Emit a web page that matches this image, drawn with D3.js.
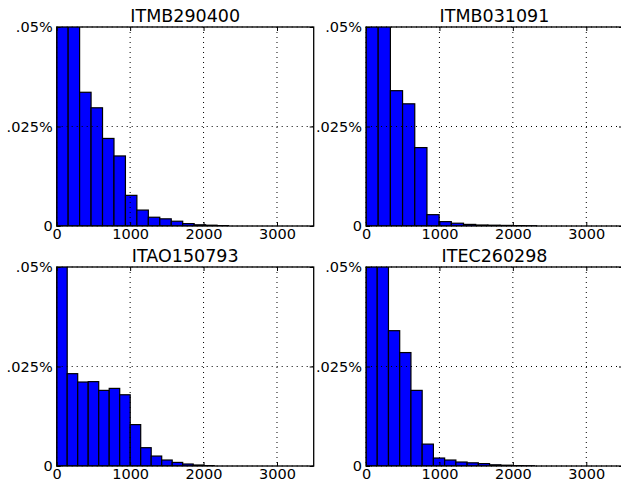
<!DOCTYPE html>
<html><head><meta charset="utf-8">
<script src="https://cdn.jsdelivr.net/npm/d3@7"></script>
<style>body{margin:0;background:#fff}svg{display:block}text{font-family:"DejaVu Sans",sans-serif;fill:#000}</style>
</head><body><svg id="c" width="621" height="485"></svg>
<script>
// Data
const titles = ["ITMB290400", "ITMB031091", "ITAO150793", "ITEC260298"];
const binWidths = [156, 166, 143, 153];
const valsITMB290400 = [0.32, 0.20, 0.0336, 0.0297, 0.0220, 0.0176, 0.0077, 0.0040, 0.0022, 0.0018, 0.0012, 0.0006, 0.0003, 0.0002, 0.0001];
const valsITMB031091 = [0.33, 0.18, 0.0340, 0.0307, 0.0197, 0.00285, 0.0011, 0.0007, 0.0004, 0.00025, 0.0002, 0.00015, 0.0001, 0.00005];
const valsITAO150793 = [0.557, 0.0232, 0.0211, 0.0212, 0.0190, 0.0195, 0.0179, 0.0104, 0.0046, 0.0025, 0.0015, 0.0009, 0.0005, 0.00025, 0.0001];
const valsITEC260298 = [0.36, 0.20, 0.0340, 0.0285, 0.0190, 0.0055, 0.0020, 0.0015, 0.0010, 0.0008, 0.0006, 0.0003, 0.0002, 0.0001, 0.00005];
const xTicks = [0, 1000, 2000, 3000];
const yTicks = [0, 0.025, 0.05];
const yTickLabels = ["0", ".025%", ".05%"];

const series = [valsITMB290400, valsITMB031091, valsITAO150793, valsITEC260298];
const svg = d3.select("#c");
const W = 257, H = 199;
const pos = [[56.7, 27], [366, 27], [56.7, 267], [366, 267]];

series.forEach((vals, k) => {
  const [x0, y0] = pos[k];
  const bw = binWidths[k];
  const x = d3.scaleLinear().domain([0, 3500]).range([x0, x0 + W]);
  const y = d3.scaleLinear().domain([0, 0.05]).range([y0 + H, y0]);
  const g = svg.append("g");
  const cid = "clip" + k;
  svg.append("clipPath").attr("id", cid).append("rect")
    .attr("x", x0).attr("y", y0).attr("width", W).attr("height", H);

  g.append("g").attr("clip-path", `url(#${cid})`)
    .selectAll("rect").data(vals).join("rect")
    .attr("x", (d, i) => x(i * bw))
    .attr("width", (d, i) => x((i + 1) * bw) - x(i * bw))
    .attr("y", d => y(d))
    .attr("height", d => y(0) - y(d))
    .attr("fill", "#0000ff").attr("stroke", "#000").attr("stroke-width", 1.2);

  // grid
  const grid = g.append("g").attr("stroke", "#000").attr("stroke-width", 1).attr("stroke-dasharray", "1,4");
  grid.selectAll("line.gx").data(xTicks).join("line").attr("class", "gx")
    .attr("x1", d => x(d)).attr("x2", d => x(d)).attr("y1", y0).attr("y2", y0 + H);
  grid.selectAll("line.gy").data(yTicks).join("line").attr("class", "gy")
    .attr("x1", x0).attr("x2", x0 + W).attr("y1", d => y(d)).attr("y2", d => y(d));

  // frame
  g.append("rect").attr("x", x0).attr("y", y0).attr("width", W).attr("height", H)
    .attr("fill", "none").attr("stroke", "#000").attr("stroke-width", 1.3);

  // axes
  g.append("g").attr("transform", `translate(0,${y0 + H})`)
    .call(d3.axisBottom(x).tickValues(xTicks).tickFormat(d3.format("d")).tickSizeInner(-4).tickSizeOuter(0).tickPadding(3));
  g.append("g").attr("transform", `translate(${x0},0)`)
    .call(d3.axisLeft(y).tickValues(yTicks).tickFormat((d, i) => yTickLabels[i]).tickSizeInner(-4).tickSizeOuter(0).tickPadding(4));
  g.append("g").attr("transform", `translate(0,${y0})`)
    .call(d3.axisTop(x).tickValues(xTicks).tickFormat("").tickSizeInner(-4).tickSizeOuter(0));
  g.append("g").attr("transform", `translate(${x0 + W},0)`)
    .call(d3.axisRight(y).tickValues(yTicks).tickFormat("").tickSizeInner(-4).tickSizeOuter(0));
  g.selectAll(".domain").remove();
  g.selectAll(".tick line").attr("stroke", "#000");
  g.selectAll(".tick text").attr("font-size", "14.5px").attr("font-family", "DejaVu Sans").attr("fill", "#000");

  g.append("text").attr("x", x0 + W / 2).attr("y", y0 - 5)
    .attr("text-anchor", "middle").attr("font-size", "17.5px").text(titles[k]);
});
</script></body></html>
